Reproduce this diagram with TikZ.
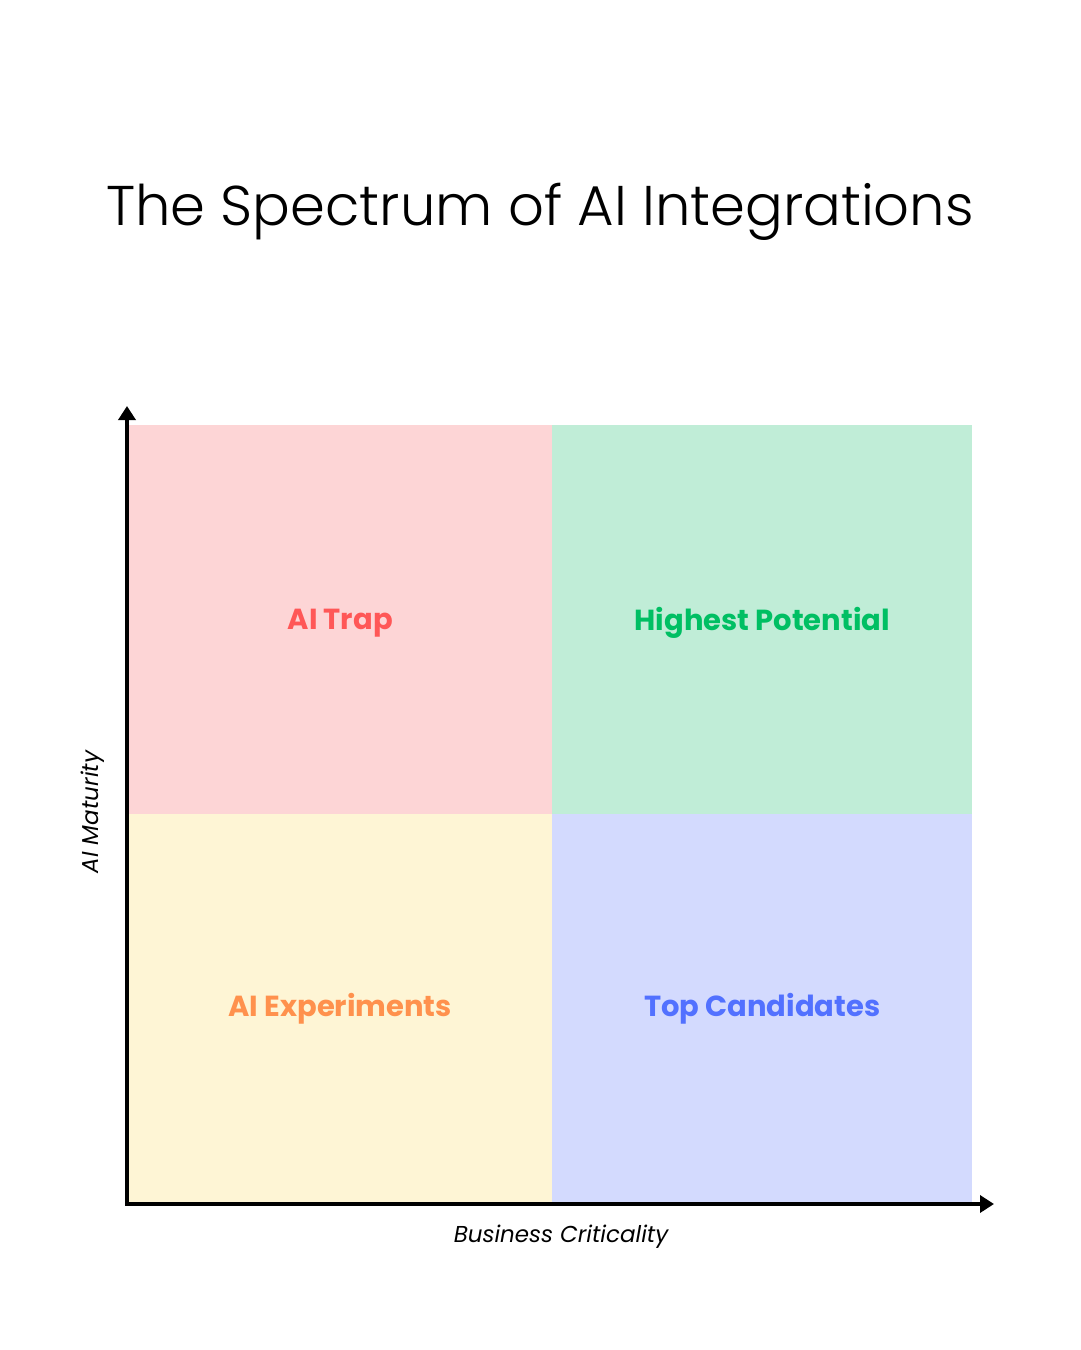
\documentclass[tikz,border=0pt]{standalone}
\usepackage{fontspec}
\setmainfont{Poppins}
\newfontfamily\titlefont{Poppins Light}
\usetikzlibrary{arrows.meta}
\definecolor{qpink}{HTML}{FDD5D6}
\definecolor{qgreen}{HTML}{C0EDD7}
\definecolor{qyellow}{HTML}{FEF5D5}
\definecolor{qblue}{HTML}{D3DAFE}
\definecolor{tred}{HTML}{FF5757}
\definecolor{tgreen}{HTML}{00BF63}
\definecolor{torange}{HTML}{FF914D}
\definecolor{tblue}{HTML}{5271FF}
\tikzset{
  quad/.style={draw=none, inner sep=0pt, minimum width=#1pt, minimum height=389pt, anchor=north west},
  qlabel/.style={font=\fontsize{29}{34}\selectfont\bfseries},
  axislabel/.style={font=\fontsize{23}{28}\selectfont\itshape},
  axis/.style={line width=3.5pt, -{Triangle[length=14pt,width=17pt]}}
}
\begin{document}
\begin{tikzpicture}[x=1pt,y=-1pt]
\useasboundingbox (0,0) rectangle (1080,1350);
\node[font=\titlefont\fontsize{56}{67}\selectfont] (title) at (540,212) {The Spectrum of AI Integrations};
\node[quad=424, fill=qpink] (tl) at (128,425) {};
\node[quad=420, fill=qgreen] (tr) at (552,425) {};
\node[quad=424, fill=qyellow] (bl) at (128,814) {};
\node[quad=420, fill=qblue] (br) at (552,814) {};
\node[qlabel, text=tred, yshift=-3pt] (l1) at (tl.center) {AI Trap};
\node[qlabel, text=tgreen, yshift=-3pt] (l2) at (tr.center) {Highest Potential};
\node[qlabel, text=torange] (l3) at (bl.center) {AI Experiments};
\node[qlabel, text=tblue] (l4) at (br.center) {Top Candidates};
\coordinate (origin) at (127,1204);
\coordinate (ytip) at (127,406);
\coordinate (xtip) at (994,1204);
\draw[axis] ([yshift=1.75pt]origin) -- (ytip);
\draw[axis] ([xshift=-1.75pt]origin) -- (xtip);
\node[axislabel, rotate=90] (ylab) at (93,812) {AI Maturity};
\node[axislabel] (xlab) at (561,1237) {Business Criticality};
\end{tikzpicture}
\end{document}
